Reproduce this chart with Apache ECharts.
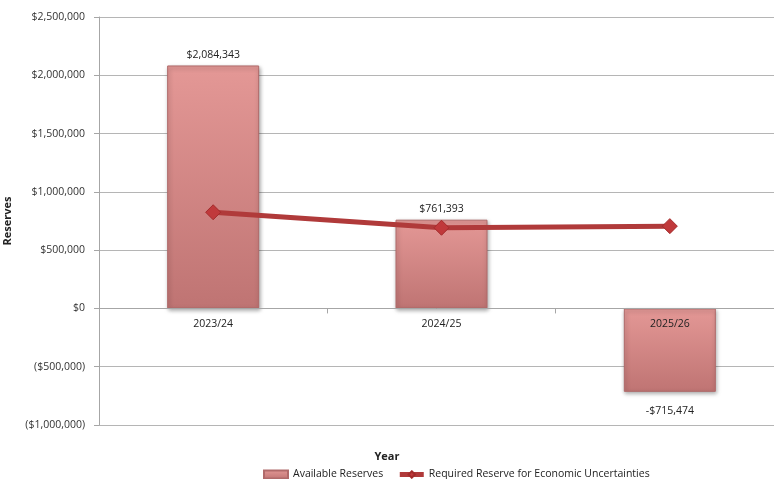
<!DOCTYPE html>
<html><head><meta charset="utf-8">
<script src="https://cdn.jsdelivr.net/npm/echarts@6/dist/echarts.min.js"></script>
<style>html,body{margin:0;padding:0;background:#fff}#c{width:774px;height:479px}</style>
</head><body><div id="c"></div>
<script>
const categories = ['2023/24', '2024/25', '2025/26'];
const availableReserves = [2084343, 761393, -715474];
const requiredReserve = [825000, 692000, 706000];
const yTicks = [-1000000, -500000, 0, 500000, 1000000, 1500000, 2000000, 2500000];

function money(v) {
  const s = '$' + Math.abs(v).toLocaleString('en-US');
  return v < 0 ? '(' + s + ')' : s;
}
const FONT = 'Open Sans';
const Y_MIN = -1000000, Y_MAX = 2500000;
const GRID_TOP = 17, GRID_BOTTOM = 54, H = 479;
const gridH = H - GRID_TOP - GRID_BOTTOM;
const zeroOffset = gridH * (0 - Y_MIN) / (Y_MAX - Y_MIN);

const chart = echarts.init(document.getElementById('c'));
chart.setOption({
  animation: false,
  textStyle: { fontFamily: FONT },
  title: {
    text: 'Year', left: 'center', top: 446,
    textStyle: { fontWeight: 'bold', fontSize: 11, color: '#222', fontFamily: FONT }
  },
  grid: { left: 99, right: -10, top: GRID_TOP, bottom: GRID_BOTTOM, containLabel: false, outerBoundsMode: 'none' },
  legend: {
    top: 464, left: 258, itemGap: 14, itemWidth: 24, itemHeight: 8, itemTextGap: 3,
    textStyle: { fontSize: 10.5, color: '#222', fontFamily: FONT },
    data: [
      { name: 'Available Reserves', icon: 'rect' },
      { name: 'Required Reserve for Economic Uncertainties', lineStyle: { width: 5 } }
    ]
  },
  xAxis: {
    type: 'category', data: categories,
    offset: -zeroOffset,
    axisLine: { onZero: false, lineStyle: { color: '#a6a6a6' } },
    axisTick: { show: true, length: 5, lineStyle: { color: '#a6a6a6' } },
    axisLabel: { color: '#222', fontSize: 10.5, margin: 10 },
    z: 10
  },
  yAxis: {
    type: 'value', min: Y_MIN, max: Y_MAX, interval: 500000,
    name: 'Reserves', nameLocation: 'middle', nameGap: 86, nameRotate: 90,
    nameTextStyle: { fontWeight: 'bold', fontSize: 11, color: '#222' },
    axisLine: { show: true, lineStyle: { color: '#a6a6a6' } },
    axisTick: { show: true, length: 5, inside: false, lineStyle: { color: '#a6a6a6' } },
    axisLabel: { color: '#333', fontSize: 10.5, margin: 14, formatter: v => yTicks.includes(v) ? money(v) : '' },
    splitLine: { lineStyle: { color: '#b5b5b5' } }
  },
  series: [
    {
      name: 'Available Reserves', type: 'bar', barWidth: 92,
      data: availableReserves.map(v => v < 0
        ? { value: v, label: { position: 'bottom', distance: 14 } }
        : { value: v }),
      itemStyle: {
        color: new echarts.graphic.LinearGradient(0, 0, 0, 1, [
          { offset: 0, color: '#e49896' }, { offset: 1, color: '#bf7473' }
        ]),
        borderColor: '#b06a6a', borderWidth: 1,
        shadowColor: 'rgba(0,0,0,0.35)', shadowBlur: 4, shadowOffsetX: 1, shadowOffsetY: 2
      },
      label: {
        show: true, position: 'top', distance: 5, color: '#222', fontSize: 10.5,
        formatter: p => p.value < 0 ? '-$' + Math.abs(p.value).toLocaleString('en-US') : money(p.value)
      },
      z: 2
    },
    {
      name: 'Required Reserve for Economic Uncertainties', type: 'line', data: requiredReserve,
      symbol: 'diamond', symbolSize: 15,
      lineStyle: { color: '#b03a3a', width: 5 },
      itemStyle: { color: '#c0393b', borderColor: '#a32b2b', borderWidth: 1 },
      z: 5
    }
  ]
});
</script></body></html>
